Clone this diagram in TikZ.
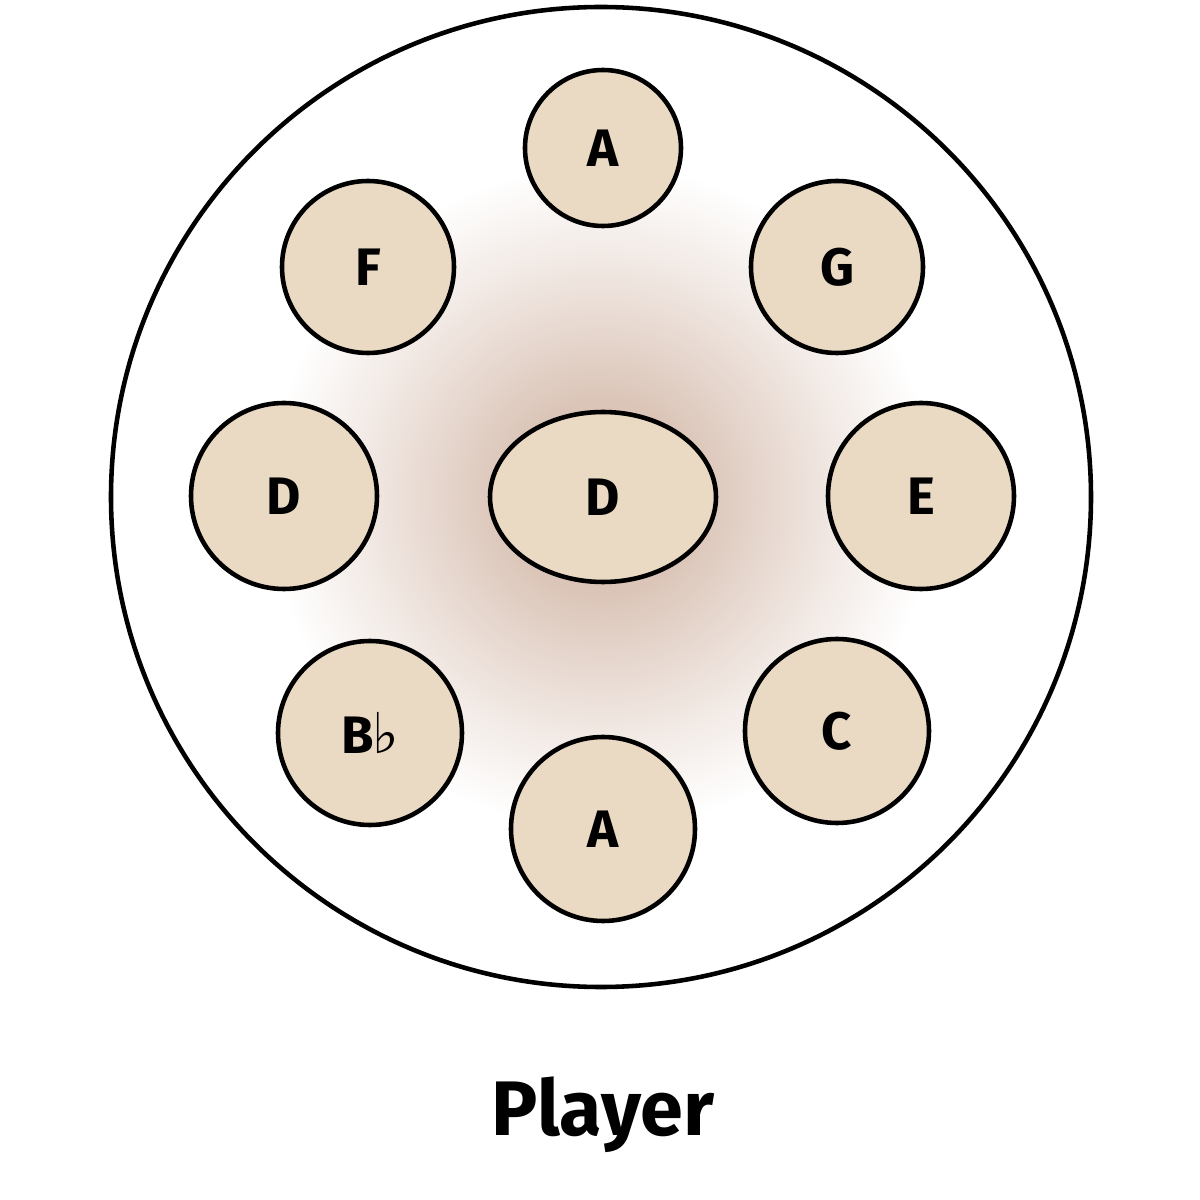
\documentclass[tikz,border=0pt]{standalone}
\usepackage{fontspec}
\setmainfont{Fira Sans}
\usetikzlibrary{shapes.geometric}
\definecolor{padfill}{HTML}{EAD9C3}
\definecolor{panmid}{HTML}{D5BBAC}
\definecolor{panrim}{HTML}{F1E5D7}
\pgfdeclareradialshading{pan}{\pgfpoint{0bp}{0bp}}{%
  color(0bp)=(panmid);
  color(5bp)=(panmid!85!white);
  color(11bp)=(panmid!40!white);
  color(17bp)=(white);
  color(27bp)=(white);
  color(38bp)=(white!50!panrim);
  color(50bp)=(panrim);
  color(100bp)=(panrim)}
\tikzset{
  pad/.style={circle, draw, line width=1.3pt, fill=padfill, minimum size=#1cm,
    inner sep=0pt, font=\fontsize{15}{15}\selectfont\bfseries},
}
\begin{document}
\begin{tikzpicture}
  \useasboundingbox (0,0) rectangle (12,12);

  %% pan body
  \shade[shading=pan] (6.01,7.03) circle (4.9);
  \draw[line width=1.3pt] (6.01,7.03) circle (4.9);

  %% tone fields
  \node[ellipse, draw, line width=1.3pt, fill=padfill, minimum width=2.26cm,
    minimum height=1.7cm, font=\fontsize{15}{15}\selectfont\bfseries] (ding) at (6.03,7.03) {D};
  \node[pad=1.56] (atop) at (6.03,10.52) {A};
  \node[pad=1.72] (f) at (3.68,9.33) {F};
  \node[pad=1.72] (g) at (8.37,9.33) {G};
  \node[pad=1.86] (dl) at (2.84,7.04) {D};
  \node[pad=1.86] (e) at (9.21,7.04) {E};
  \node[pad=1.84] (bb) at (3.70,4.67) {B\kern-0.5pt{\fontspec{DejaVu Sans}\fontsize{16}{16}\selectfont ♭}};
  \node[pad=1.84] (c) at (8.37,4.69) {C};
  \node[pad=1.84] (abot) at (6.03,3.71) {A};

  \node[font=\fontsize{22}{22}\selectfont\bfseries] (player) at (6.03,0.85) {Player};
\end{tikzpicture}
\end{document}
